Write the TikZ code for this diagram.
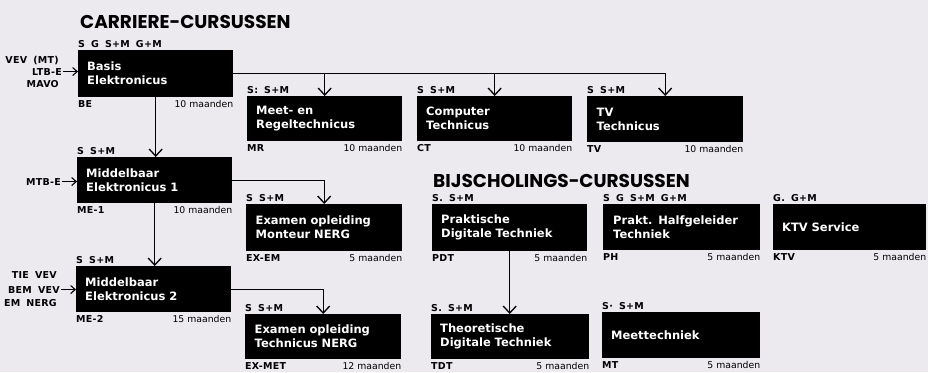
\documentclass[tikz,border=0pt]{standalone}
\usepackage{fontspec}
\usetikzlibrary{arrows.meta}
\newfontfamily\titlefont{Poppins}
\newfontfamily\boxfont{DejaVu Sans}
\newfontfamily\labfont[WordSpace=1.7,LetterSpace=3]{DejaVu Sans}
\definecolor{bg}{RGB}{236,233,239}
\newcommand\mkcourse[4]{%
  \node[lab, anchor=base west] (#1-t) at ([yshift=3pt]#1.north west) {#2};
  \node[lab, anchor=base west] (#1-c) at ([yshift=-10pt]#1.south west) {#3};
  \node[dur, anchor=base east] (#1-d) at ([yshift=-10pt]#1.south east) {#4};}
\begin{document}
\begin{tikzpicture}[x=1pt,y=-1pt,
  cbox/.style={fill=black, text=white, font=\boxfont\bfseries\fontsize{11.5}{14}\selectfont,
    anchor=north west, minimum width=155pt, minimum height=46pt, text width=137pt,
    inner xsep=9pt, inner ysep=0pt, align=left},
  lab/.style={font=\labfont\bfseries\fontsize{9.5}{11}\selectfont, inner sep=0pt, text=black},
  dur/.style={font=\boxfont\fontsize{9.3}{11}\selectfont, inner sep=0pt, text=black},
  ttl/.style={font=\titlefont\bfseries\fontsize{18.5}{20}\selectfont, inner sep=0pt, anchor=base west},
  conn/.style={line width=1.3pt, -{Straight Barb[length=7pt,width=13pt]}},
  inarr/.style={line width=1.1pt, -{Straight Barb[length=4.5pt,width=8pt]}}]
\fill[bg] (0,0) rectangle (928,372);
\useasboundingbox (0,0) rectangle (928,372);

% titles
\node[ttl] (t1) at (80,28) {CARRIERE-CURSUSSEN};
\node[ttl] (t2) at (433,187) {BIJSCHOLINGS-CURSUSSEN};

% boxes
\node[cbox, minimum height=47pt] (BE) at (78,50) {Basis\\Elektronicus};
\node[cbox] (ME1) at (77,157) {Middelbaar\\Elektronicus 1};
\node[cbox] (ME2) at (76,266) {Middelbaar\\Elektronicus 2};
\node[cbox, minimum height=45pt] (MR) at (247,96) {Meet- en\\Regeltechnicus};
\node[cbox, minimum height=45pt] (CT) at (417,96) {Computer\\Technicus};
\node[cbox, minimum width=156pt] (TV) at (587,96) {TV\\Technicus};
\node[cbox, minimum width=156pt, minimum height=47pt] (EXEM) at (246,204) {Examen opleiding\\Monteur NERG};
\node[cbox, minimum height=47pt] (PDT) at (432,204) {Praktische\\Digitale Techniek};
\node[cbox, minimum width=157pt] (PH) at (603,204) {Prakt. Halfgeleider\\Techniek};
\node[cbox, minimum width=153pt, text width=135pt] (KTV) at (773,204) {KTV Service};
\node[cbox, minimum width=156pt, minimum height=45pt] (EXMET) at (245,314) {Examen opleiding\\Technicus NERG};
\node[cbox, minimum width=158pt, text width=140pt, minimum height=45pt] (TDT) at (431,314) {Theoretische\\Digitale Techniek};
\node[cbox, minimum width=158pt, text width=140pt] (MT) at (602,312) {Meettechniek};

% labels
\mkcourse{BE}{S G S+M G+M}{BE}{10 maanden}
\mkcourse{ME1}{S S+M}{ME-1}{10 maanden}
\mkcourse{ME2}{S S+M}{ME-2}{15 maanden}
\mkcourse{MR}{S: S+M}{MR}{10 maanden}
\mkcourse{CT}{S S+M}{CT}{10 maanden}
\mkcourse{TV}{S S+M}{TV}{10 maanden}
\mkcourse{EXEM}{S S+M}{EX-EM}{5 maanden}
\mkcourse{PDT}{S. S+M}{PDT}{5 maanden}
\mkcourse{PH}{S G S+M G+M}{PH}{5 maanden}
\mkcourse{KTV}{G. G+M}{KTV}{5 maanden}
\mkcourse{EXMET}{S S+M}{EX-MET}{12 maanden}
\mkcourse{TDT}{S. S+M}{TDT}{5 maanden}
\mkcourse{MT}{S· S+M}{MT}{5 maanden}

% entry requirements
\node[lab, anchor=base east] (in1a) at (59,63) {VEV (MT)};
\node[lab, anchor=base east] (in1b) at (62,75) {LTB-E};
\node[lab, anchor=base east] (in1c) at (59,87) {MAVO};
\node[lab, anchor=base east] (in2) at (61,185) {MTB-E};
\node[lab, anchor=base east] (in3a) at (57,278) {TIE VEV};
\node[lab, anchor=base east] (in3b) at (60,293) {BEM VEV};
\node[lab, anchor=base east] (in3c) at (57,306) {EM NERG};
\draw[inarr] ([xshift=1pt]in1b.east) -- (in1b.east -| BE.west);
\draw[inarr] ([xshift=1pt]in2.east) -- (in2.east -| ME1.west);
\draw[inarr] ([xshift=1pt]in3b.east) -- (in3b.east -| ME2.west);

% connectors
\draw[conn] (BE.east) -| (TV.north);
\draw[conn] (BE.east -| MR.north) -- (MR.north);
\draw[conn] (BE.east -| CT.north) -- (CT.north);
\draw[conn] (BE.south) -- (BE.south |- ME1.north);
\draw[conn] (ME1.east) -| (EXEM.north);
\draw[conn] (ME1.south) -- (ME1.south |- ME2.north);
\draw[conn] (ME2.east) -| (EXMET.north);
\draw[conn] (PDT.south) -- (PDT.south |- TDT.north);
\end{tikzpicture}
\end{document}
